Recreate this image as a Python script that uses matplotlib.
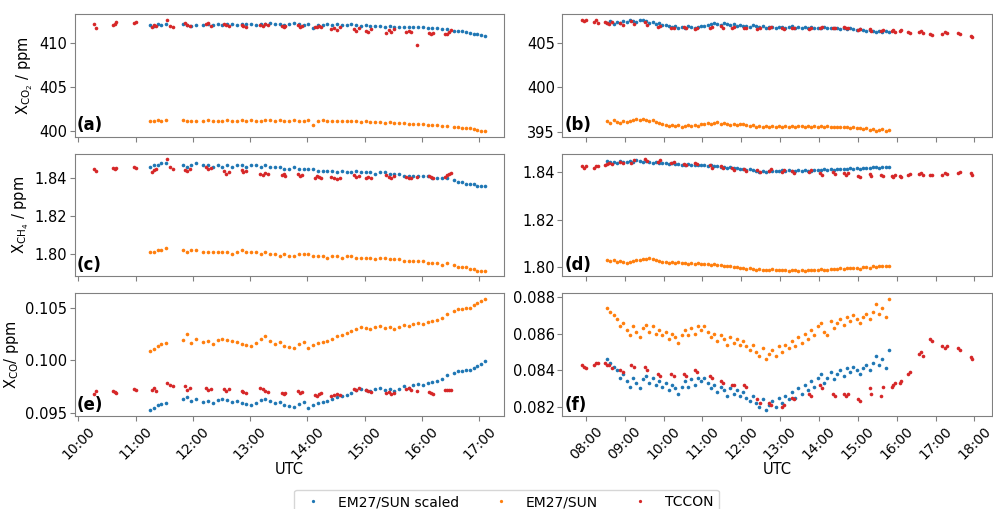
import numpy as np
import pandas as pd
import matplotlib
matplotlib.use("Agg")
import matplotlib.pyplot as plt
import matplotlib.dates as mdates
from matplotlib.ticker import MultipleLocator, FormatStrFormatter

# ---------------- left day (panels a, c, e) ----------------
left_em_time = [
    "11:15", "11:19", "11:23", "11:27", "11:32",
    "11:50", "11:54", "11:58", "12:03",
    "12:11", "12:16", "12:21", "12:26", "12:31", "12:36", "12:41", "12:46", "12:51", "12:56",
    "13:01", "13:06", "13:11", "13:16", "13:21", "13:26", "13:31", "13:36", "13:41", "13:46", "13:51", "13:56",
    "14:01", "14:06", "14:11", "14:16", "14:21", "14:26", "14:31", "14:36", "14:41", "14:46", "14:51", "14:56",
    "15:01", "15:06", "15:11", "15:16", "15:21", "15:26", "15:31", "15:36", "15:41", "15:46", "15:51", "15:56",
    "16:01", "16:06", "16:11", "16:16", "16:21", "16:26",
    "16:34", "16:38", "16:42", "16:46", "16:50", "16:54", "16:58", "17:02", "17:06",
]
left_co2_scaled = [
    412.1, 412.0, 412.2, 412.1, 412.2,
    412.2, 412.1, 412.0, 412.1,
    412.1, 412.2, 412.1, 412.2, 412.1, 412.2, 412.2, 412.1, 412.2, 412.2,
    412.2, 412.1, 412.2, 412.2, 412.3, 412.2, 412.2, 412.1, 412.2, 412.3, 412.2, 412.1,
    412.2, 411.7, 412.1, 412.1, 412.2, 412.1, 412.2, 412.1, 412.1, 412.2, 412.1, 412.0,
    412.1, 412.0, 412.0, 412.0, 411.9, 411.95, 411.9, 411.9, 411.85, 411.8, 411.85, 411.8,
    411.8, 411.75, 411.7, 411.7, 411.6, 411.6,
    411.4, 411.45, 411.35, 411.3, 411.2, 411.1, 411.0, 410.9, 410.85,
]
left_co2_em = [
    401.2, 401.1, 401.3, 401.2, 401.3,
    401.3, 401.2, 401.2, 401.2,
    401.2, 401.3, 401.2, 401.2, 401.1, 401.3, 401.2, 401.2, 401.3, 401.2,
    401.3, 401.2, 401.2, 401.3, 401.3, 401.2, 401.3, 401.2, 401.2, 401.3, 401.2, 401.2,
    401.3, 400.7, 401.2, 401.3, 401.2, 401.2, 401.1, 401.2, 401.1, 401.1, 401.1, 401.0,
    401.1, 401.0, 401.0, 401.0, 400.9, 401.0, 400.9, 400.9, 400.9, 400.8, 400.8, 400.8,
    400.8, 400.7, 400.7, 400.7, 400.6, 400.6,
    400.5, 400.5, 400.4, 400.4, 400.3, 400.2, 400.1, 400.0, 400.0,
]
left_ch4_scaled = [
    1.846, 1.847, 1.847, 1.848, 1.848,
    1.847, 1.846, 1.847, 1.848,
    1.847, 1.847, 1.846, 1.847, 1.846, 1.847, 1.846, 1.847, 1.847, 1.846,
    1.847, 1.847, 1.846, 1.847, 1.846, 1.846, 1.846, 1.845, 1.845, 1.846, 1.845, 1.845,
    1.845, 1.845, 1.844, 1.844, 1.844, 1.844, 1.843, 1.844, 1.843, 1.843, 1.844, 1.843,
    1.843, 1.843, 1.842, 1.843, 1.843, 1.842, 1.842, 1.842, 1.841, 1.841, 1.841, 1.841,
    1.841, 1.841, 1.840, 1.840, 1.840, 1.840,
    1.839, 1.838, 1.838, 1.837, 1.837, 1.837, 1.836, 1.836, 1.836,
]
left_ch4_em = [
    1.801, 1.801, 1.802, 1.802, 1.803,
    1.802, 1.801, 1.802, 1.802,
    1.801, 1.801, 1.801, 1.801, 1.801, 1.801, 1.800, 1.801, 1.802, 1.801,
    1.801, 1.801, 1.800, 1.801, 1.800, 1.800, 1.799, 1.800, 1.799, 1.799, 1.800, 1.800,
    1.800, 1.799, 1.799, 1.799, 1.798, 1.799, 1.799, 1.798, 1.799, 1.799, 1.798, 1.798,
    1.798, 1.798, 1.797, 1.798, 1.798, 1.797, 1.797, 1.797, 1.796, 1.796, 1.796, 1.796,
    1.796, 1.795, 1.795, 1.795, 1.794, 1.795,
    1.794, 1.793, 1.793, 1.793, 1.792, 1.792, 1.791, 1.791, 1.791,
]
left_co_scaled = [
    0.0952, 0.0954, 0.0957, 0.0958, 0.0959,
    0.0963, 0.0965, 0.0961, 0.0963,
    0.0960, 0.0961, 0.0959, 0.0962, 0.0963, 0.0962, 0.0960, 0.0961, 0.0959, 0.0958,
    0.0957, 0.0959, 0.0962, 0.0963, 0.0961, 0.0959, 0.0960, 0.0957, 0.0956, 0.0955, 0.0958, 0.0960,
    0.0954, 0.0957, 0.0959, 0.0960, 0.0961, 0.0963, 0.0965, 0.0966, 0.0967, 0.0969, 0.0972, 0.0973,
    0.0972, 0.0971, 0.0973, 0.0974, 0.0972, 0.0973, 0.0971, 0.0973, 0.0975, 0.0974, 0.0976, 0.0977,
    0.0976, 0.0978, 0.0979, 0.0980, 0.0982, 0.0986,
    0.0988, 0.0990, 0.0990, 0.0991, 0.0991, 0.0993, 0.0995, 0.0997, 0.0999,
]
left_co_em = [
    0.1009, 0.1011, 0.1014, 0.1016, 0.1017,
    0.1020, 0.1025, 0.1017, 0.1021,
    0.1018, 0.1019, 0.1016, 0.1020, 0.1021, 0.1020, 0.1019, 0.1018, 0.1016, 0.1015,
    0.1014, 0.1017, 0.1021, 0.1023, 0.1019, 0.1016, 0.1018, 0.1014, 0.1013, 0.1012, 0.1016, 0.1018,
    0.1012, 0.1015, 0.1017, 0.1018, 0.1019, 0.1021, 0.1023, 0.1024, 0.1026, 0.1028, 0.1030, 0.1032,
    0.1031, 0.1030, 0.1032, 0.1033, 0.1031, 0.1032, 0.1030, 0.1032, 0.1034, 0.1033, 0.1035, 0.1036,
    0.1035, 0.1037, 0.1038, 0.1039, 0.1041, 0.1045,
    0.1047, 0.1049, 0.1049, 0.1050, 0.1050, 0.1053, 0.1055, 0.1057, 0.1059,
]

left_tc_time = [
    "10:17", "10:19", "10:36", "10:38", "10:40", "10:58", "11:00",
    "11:17", "11:19", "11:21", "11:33", "11:36", "11:39", "11:52", "11:54", "11:57",
    "12:14", "12:16", "12:19", "12:33", "12:35", "12:38", "12:51", "12:53", "12:56",
    "13:10", "13:13", "13:16", "13:19", "13:33", "13:35", "13:37", "13:50", "13:52", "13:54",
    "14:08", "14:10", "14:12", "14:14", "14:25", "14:28", "14:31", "14:34", "14:49", "14:51", "14:54",
    "15:01", "15:04", "15:07", "15:22", "15:25", "15:28", "15:31", "15:43", "15:46", "15:49", "15:55",
    "16:07", "16:09", "16:12", "16:24", "16:26", "16:28", "16:30",
]
left_tc_co2 = [
    412.2, 411.7, 412.1, 412.2, 412.4, 412.3, 412.4,
    411.9, 412.1, 412.0, 412.7, 412.0, 411.9, 412.3, 412.1, 412.0,
    412.2, 412.3, 412.0, 412.2, 412.1, 412.0, 412.1, 412.0, 411.9,
    412.1, 412.0, 412.2, 412.1, 412.0, 411.8, 412.0, 412.1, 411.9, 412.0,
    411.8, 411.9, 412.0, 411.9, 411.6, 411.7, 411.5, 411.8, 411.6, 411.4, 411.7,
    411.4, 411.3, 411.6, 411.2, 411.5, 411.3, 411.6, 411.3, 411.4, 411.3, 409.8,
    411.2, 411.1, 411.2, 411.0, 411.1, 411.3, 411.5,
]
left_tc_ch4 = [
    1.8450, 1.8440, 1.8452, 1.8448, 1.8452, 1.8460, 1.8455,
    1.8435, 1.8445, 1.8450, 1.8500, 1.8460, 1.8450, 1.8445, 1.8440, 1.8450,
    1.8460, 1.8450, 1.8455, 1.8440, 1.8420, 1.8430, 1.8445, 1.8435, 1.8440,
    1.8420, 1.8415, 1.8425, 1.8420, 1.8415, 1.8420, 1.8410, 1.8420, 1.8410, 1.8415,
    1.8400, 1.8410, 1.8405, 1.8400, 1.8405, 1.8400, 1.8395, 1.8400, 1.8415, 1.8405, 1.8410,
    1.8400, 1.8405, 1.8400, 1.8415, 1.8405, 1.8400, 1.8410, 1.8405, 1.8400, 1.8400, 1.8405,
    1.8410, 1.8405, 1.8400, 1.8405, 1.8415, 1.8420, 1.8425,
]
left_tc_co = [
    0.0968, 0.0971, 0.0971, 0.0970, 0.0969, 0.0973, 0.0972,
    0.0972, 0.0974, 0.0971, 0.0978, 0.0976, 0.0975, 0.0975, 0.0972, 0.0974,
    0.0974, 0.0972, 0.0973, 0.0973, 0.0971, 0.0973, 0.0971, 0.0970, 0.0969,
    0.0974, 0.0973, 0.0971, 0.0970, 0.0969, 0.0968, 0.0969, 0.0971, 0.0969, 0.0970,
    0.0967, 0.0966, 0.0968, 0.0969, 0.0966, 0.0967, 0.0968, 0.0967, 0.0973, 0.0972, 0.0974,
    0.0972, 0.0971, 0.0970, 0.0969, 0.0970, 0.0968, 0.0969, 0.0973, 0.0974, 0.0972, 0.0971,
    0.0970, 0.0969, 0.0968, 0.0972, 0.0972, 0.0972, 0.0972,
]

# ---------------- right day (panels b, d, f) ----------------
right_em_time = [
    "08:33", "08:38", "08:43", "08:48", "08:53", "08:58",
    "09:03", "09:08", "09:13", "09:18", "09:23", "09:28", "09:33", "09:38", "09:43", "09:48", "09:53", "09:58",
    "10:03", "10:08", "10:13", "10:18", "10:23", "10:28", "10:33", "10:38", "10:43", "10:48", "10:53", "10:58",
    "11:03", "11:08", "11:13", "11:18", "11:23", "11:28", "11:33", "11:38", "11:43", "11:48", "11:53", "11:58",
    "12:03", "12:08", "12:13", "12:18", "12:23", "12:28", "12:33", "12:38", "12:43", "12:48", "12:53", "12:58",
    "13:03", "13:08", "13:13", "13:18", "13:23", "13:28", "13:33", "13:38", "13:43", "13:48", "13:53", "13:58",
    "14:03", "14:08", "14:13", "14:18", "14:23", "14:28", "14:33", "14:38", "14:43", "14:48", "14:53", "14:58",
    "15:03", "15:08", "15:13", "15:18", "15:23", "15:28", "15:33", "15:38", "15:43", "15:48",
]
right_co2_scaled = [
    407.2, 407.4, 407.1, 407.3, 407.2, 407.4,
    407.3, 407.5, 407.4, 407.3, 407.6, 407.5, 407.4, 407.2, 407.3, 407.1, 407.2, 407.0,
    407.0, 406.9, 406.8, 406.9, 406.7, 406.8, 406.7, 406.9, 406.8, 406.7, 406.8, 406.9,
    406.9, 407.0, 407.1, 407.2, 407.1, 407.0, 407.2, 407.1, 407.0, 407.1, 406.9, 407.0,
    406.9, 406.9, 406.8, 407.0, 406.9, 406.8, 406.9, 406.7, 406.8, 406.8, 406.7, 406.8,
    406.8, 406.7, 406.8, 406.9, 406.7, 406.8, 406.7, 406.8, 406.7, 406.8, 406.7, 406.6,
    406.7, 406.8, 406.7, 406.6, 406.7, 406.6, 406.5, 406.6, 406.5, 406.6, 406.5, 406.4,
    406.5, 406.4, 406.3, 406.4, 406.3, 406.2, 406.3, 406.2, 406.3, 406.2,
]
right_co2_em = [
    396.2, 396.0, 396.3, 396.1, 396.0, 396.2,
    396.1, 396.2, 396.3, 396.5, 396.3, 396.4, 396.3, 396.2, 396.3, 396.1, 396.0, 395.9,
    395.8, 395.7, 395.8, 395.7, 395.8, 395.6, 395.7, 395.8, 395.7, 395.8, 395.7, 395.9,
    395.9, 396.0, 395.9, 396.0, 396.1, 395.9, 396.0, 395.9, 395.8, 395.9, 395.8, 395.9,
    395.9, 395.8, 395.7, 395.8, 395.6, 395.7, 395.6, 395.7, 395.6, 395.7, 395.6, 395.7,
    395.6, 395.7, 395.6, 395.7, 395.6, 395.7, 395.7, 395.6, 395.7, 395.6, 395.7, 395.6,
    395.7, 395.6, 395.7, 395.6, 395.5, 395.6, 395.5, 395.6, 395.5, 395.4, 395.5, 395.4,
    395.4, 395.3, 395.4, 395.2, 395.3, 395.1, 395.2, 395.3, 395.1, 395.2,
]
right_ch4_scaled = [
    1.8448, 1.8445, 1.8442, 1.8440, 1.8446, 1.8443,
    1.8445, 1.8448, 1.8442, 1.8450, 1.8446, 1.8444, 1.8448, 1.8445, 1.8440, 1.8443, 1.8440, 1.8438,
    1.8440, 1.8436, 1.8438, 1.8434, 1.8436, 1.8432, 1.8430, 1.8433, 1.8430, 1.8432, 1.8429, 1.8431,
    1.8430, 1.8428, 1.8430, 1.8426, 1.8428, 1.8424, 1.8422, 1.8420, 1.8421, 1.8418, 1.8416, 1.8414,
    1.8412, 1.8410, 1.8413, 1.8408, 1.8405, 1.8402, 1.8406, 1.8403, 1.8405, 1.8407, 1.8404, 1.8406,
    1.8408, 1.8405, 1.8409, 1.8407, 1.8404, 1.8408, 1.8406, 1.8409, 1.8407, 1.8405, 1.8408, 1.8410,
    1.8409, 1.8412, 1.8410, 1.8413, 1.8411, 1.8414, 1.8412, 1.8415, 1.8413, 1.8416, 1.8414, 1.8417,
    1.8415, 1.8418, 1.8420, 1.8418, 1.8421, 1.8423, 1.8420, 1.8424, 1.8422, 1.8423,
]
right_ch4_em = [
    1.8030, 1.8026, 1.8028, 1.8022, 1.8024, 1.8020,
    1.8018, 1.8022, 1.8025, 1.8030, 1.8028, 1.8032, 1.8035, 1.8038, 1.8033, 1.8028, 1.8024, 1.8020,
    1.8022, 1.8018, 1.8020, 1.8016, 1.8019, 1.8015, 1.8017, 1.8014, 1.8016, 1.8012, 1.8015, 1.8013,
    1.8011, 1.8014, 1.8010, 1.8012, 1.8009, 1.8010, 1.8006, 1.8004, 1.8002, 1.8000, 1.7998, 1.7996,
    1.7996, 1.7992, 1.7995, 1.7990, 1.7988, 1.7991, 1.7986, 1.7989, 1.7987, 1.7990, 1.7986, 1.7988,
    1.7986, 1.7989, 1.7985, 1.7988, 1.7986, 1.7984, 1.7987, 1.7985, 1.7988, 1.7986, 1.7989, 1.7987,
    1.7990, 1.7987, 1.7989, 1.7992, 1.7990, 1.7993, 1.7995, 1.7992, 1.7996, 1.7994, 1.7997, 1.7995,
    1.7993, 1.7998, 1.8000, 1.7997, 1.8002, 1.8000, 1.8004, 1.8002, 1.8005, 1.8004,
]
right_co_scaled = [
    0.0846, 0.0844, 0.0842, 0.0840, 0.0836, 0.0838,
    0.0834, 0.0831, 0.0836, 0.0833, 0.0830, 0.0835, 0.0837, 0.0833, 0.0836, 0.0832, 0.0834, 0.0831,
    0.0833, 0.0829, 0.0832, 0.0830, 0.0827, 0.0831, 0.0834, 0.0831, 0.0835, 0.0832, 0.0836, 0.0834,
    0.0836, 0.0833, 0.0830, 0.0832, 0.0828, 0.0831, 0.0829, 0.0826, 0.0830, 0.0827, 0.0829, 0.0826,
    0.0828, 0.0825, 0.0823, 0.0826, 0.0822, 0.0820, 0.0824, 0.0818, 0.0821, 0.0823, 0.0820, 0.0825,
    0.0822, 0.0826, 0.0824, 0.0828, 0.0825, 0.0830, 0.0827, 0.0832, 0.0829, 0.0834, 0.0831, 0.0836,
    0.0838, 0.0833, 0.0836, 0.0839, 0.0835, 0.0838, 0.0840, 0.0837, 0.0841, 0.0839, 0.0842, 0.0840,
    0.0838, 0.0841, 0.0843, 0.0840, 0.0844, 0.0848, 0.0843, 0.0846, 0.0841, 0.0851,
]
right_co_em = [
    0.0874, 0.0872, 0.0870, 0.0868, 0.0864, 0.0866,
    0.0862, 0.0859, 0.0864, 0.0861, 0.0858, 0.0863, 0.0865, 0.0861, 0.0864, 0.0860, 0.0862, 0.0859,
    0.0861, 0.0857, 0.0860, 0.0858, 0.0855, 0.0859, 0.0862, 0.0859, 0.0863, 0.0860, 0.0864, 0.0862,
    0.0864, 0.0861, 0.0858, 0.0860, 0.0856, 0.0859, 0.0857, 0.0854, 0.0858, 0.0855, 0.0857, 0.0854,
    0.0856, 0.0853, 0.0851, 0.0854, 0.0850, 0.0848, 0.0852, 0.0846, 0.0849, 0.0851, 0.0848, 0.0853,
    0.0850, 0.0854, 0.0852, 0.0856, 0.0853, 0.0858, 0.0855, 0.0860, 0.0857, 0.0862, 0.0859, 0.0864,
    0.0866, 0.0861, 0.0859, 0.0867, 0.0863, 0.0866, 0.0868, 0.0865, 0.0869, 0.0867, 0.0870, 0.0868,
    0.0866, 0.0869, 0.0871, 0.0868, 0.0872, 0.0876, 0.0871, 0.0874, 0.0869, 0.0879,
]

right_tc_time = [
    "07:54", "07:57", "08:00", "08:12", "08:15", "08:18", "08:30", "08:33", "08:36", "08:40",
    "08:53", "08:57", "09:10", "09:14", "09:31", "09:35", "09:52", "09:55",
    "10:12", "10:16", "10:31", "10:34", "10:49", "10:52",
    "11:11", "11:14", "11:29", "11:32", "11:46", "11:48",
    "12:04", "12:07", "12:25", "12:29", "12:43", "12:46",
    "13:03", "13:06", "13:19", "13:22", "13:44", "13:47",
    "14:02", "14:05", "14:22", "14:25", "14:38", "14:41", "14:45",
    "15:00", "15:04", "15:19", "15:21", "15:36", "15:39", "15:52", "15:55", "15:58",
    "16:05", "16:07", "16:17", "16:20", "16:35", "16:38", "16:40", "16:51", "16:54",
    "17:10", "17:14", "17:18", "17:34", "17:37", "17:54", "17:57",
]
right_tc_co2 = [
    407.5, 407.4, 407.5, 407.3, 407.5, 407.2, 407.3, 407.2, 407.1, 407.3,
    407.2, 407.0, 407.4, 407.1, 407.3, 407.0, 406.8, 406.9,
    406.7, 406.6, 406.8, 406.6, 406.5, 406.7,
    406.6, 406.8, 406.9, 406.7, 406.6, 406.8,
    406.7, 406.6, 406.5, 406.6, 406.6, 406.8,
    406.7, 406.5, 406.6, 406.7, 406.5, 406.7,
    406.6, 406.8, 406.7, 406.6, 406.8, 406.6, 406.7,
    406.4, 406.5, 406.5, 406.3, 406.3, 406.4, 406.3, 406.4, 406.2,
    406.3, 406.4, 406.2, 406.1, 406.2, 406.3, 406.1, 406.0, 405.9,
    406.0, 406.2, 406.1, 406.1, 406.0, 405.8, 405.7,
]
right_tc_ch4 = [
    1.8425, 1.8420, 1.8428, 1.8420, 1.8428, 1.8425, 1.8430, 1.8435, 1.8440, 1.8435,
    1.8445, 1.8440, 1.8440, 1.8450, 1.8455, 1.8448, 1.8445, 1.8450,
    1.8440, 1.8445, 1.8435, 1.8430, 1.8440, 1.8435,
    1.8430, 1.8420, 1.8425, 1.8418, 1.8420, 1.8410,
    1.8415, 1.8405, 1.8410, 1.8400, 1.8405, 1.8415,
    1.8400, 1.8410, 1.8405, 1.8398, 1.8400, 1.8408,
    1.8395, 1.8390, 1.8400, 1.8392, 1.8398, 1.8390, 1.8395,
    1.8385, 1.8380, 1.8392, 1.8385, 1.8388, 1.8385, 1.8385, 1.8380, 1.8388,
    1.8383, 1.8378, 1.8390, 1.8393, 1.8392, 1.8395, 1.8390, 1.8390, 1.8388,
    1.8388, 1.8395, 1.8392, 1.8398, 1.8400, 1.8395, 1.8390,
]
right_tc_co = [
    0.0843, 0.0842, 0.0841, 0.0843, 0.0844, 0.0844, 0.0844, 0.0843, 0.0843, 0.0841,
    0.0840, 0.0839, 0.0843, 0.0842, 0.0842, 0.0840, 0.0838, 0.0837,
    0.0838, 0.0837, 0.0838, 0.0837, 0.0840, 0.0839,
    0.0837, 0.0836, 0.0834, 0.0833, 0.0832, 0.0832,
    0.0832, 0.0831, 0.0824, 0.0822, 0.0822, 0.0821,
    0.0820, 0.0821, 0.0825, 0.0824, 0.0827, 0.0826,
    0.0832, 0.0830, 0.0827, 0.0826, 0.0827, 0.0826, 0.0827,
    0.0824, 0.0823, 0.0830, 0.0827, 0.0826, 0.0831, 0.0831, 0.0832, 0.0833,
    0.0833, 0.0834, 0.0838, 0.0839, 0.0849, 0.0850, 0.0848, 0.0857, 0.0856,
    0.0853, 0.0852, 0.0853, 0.0852, 0.0851, 0.0847, 0.0846,
]


def to_dt(day, times):
    return pd.to_datetime([day + " " + t for t in times])


left_day = "2000-01-01"
right_day = "2000-01-02"

panels = [
    # (row, col, day, em times, scaled, em, tccon times, tccon, ylabel, tag, step, fmt)
    (0, 0, left_day, left_em_time, left_co2_scaled, left_co2_em, left_tc_time, left_tc_co2,
     r"X$_{\mathrm{CO_2}}$ / ppm", "(a)", 5, "%d"),
    (0, 1, right_day, right_em_time, right_co2_scaled, right_co2_em, right_tc_time, right_tc_co2,
     None, "(b)", 5, "%d"),
    (1, 0, left_day, left_em_time, left_ch4_scaled, left_ch4_em, left_tc_time, left_tc_ch4,
     r"X$_{\mathrm{CH_4}}$ / ppm", "(c)", 0.02, "%.2f"),
    (1, 1, right_day, right_em_time, right_ch4_scaled, right_ch4_em, right_tc_time, right_tc_ch4,
     None, "(d)", 0.02, "%.2f"),
    (2, 0, left_day, left_em_time, left_co_scaled, left_co_em, left_tc_time, left_tc_co,
     r"X$_{\mathrm{CO}}$/ ppm", "(e)", 0.005, "%.3f"),
    (2, 1, right_day, right_em_time, right_co_scaled, right_co_em, right_tc_time, right_tc_co,
     None, "(f)", 0.002, "%.3f"),
]

plt.rcParams["axes.edgecolor"] = "#808080"
plt.rcParams["xtick.color"] = "#808080"
plt.rcParams["ytick.color"] = "#808080"
plt.rcParams["xtick.labelcolor"] = "black"
plt.rcParams["ytick.labelcolor"] = "black"

fig, axes = plt.subplots(3, 2, sharex="col", figsize=(9.93, 5.09), dpi=100)
fig.subplots_adjust(left=0.0755, right=0.999, top=0.9725, bottom=0.1827,
                    wspace=0.135, hspace=0.139)

ms = 2.6
for row, col, day, em_t, sc, em, tc_t, tc, ylab, tag, step, fmt in panels:
    ax = axes[row, col]
    t_em = to_dt(day, em_t)
    t_tc = to_dt(day, tc_t)
    ax.plot(t_em, sc, "o", ms=ms, mew=0, color="tab:blue", label="EM27/SUN scaled")
    ax.plot(t_em, em, "o", ms=ms, mew=0, color="tab:orange", label="EM27/SUN")
    ax.plot(t_tc, tc, "o", ms=ms, mew=0, color="tab:red", label="TCCON")
    ax.yaxis.set_major_locator(MultipleLocator(step))
    ax.yaxis.set_major_formatter(FormatStrFormatter(fmt))
    ax.tick_params(axis="y", labelsize=10.5, pad=2)
    ax.xaxis.set_major_locator(mdates.HourLocator())
    ax.xaxis.set_major_formatter(mdates.DateFormatter("%H:%M"))
    ax.tick_params(axis="x", labelsize=10, rotation=45, pad=2)
    if ylab:
        ax.set_ylabel(ylab, fontsize=10.5, labelpad=3)
    ax.text(0.005, 0.02, tag, transform=ax.transAxes, fontsize=12,
            fontweight="bold", ha="left", va="bottom")
    if row == 2:
        ax.set_xlabel("UTC", fontsize=10.5, labelpad=0)

handles, labels = axes[0, 0].get_legend_handles_labels()
fig.legend(handles, labels, loc="lower center", ncol=3, bbox_to_anchor=(0.51, -0.025),
           fontsize=10, columnspacing=2.0, handletextpad=0.8, markerscale=0.9)

fig.savefig("out.png", dpi=100)
